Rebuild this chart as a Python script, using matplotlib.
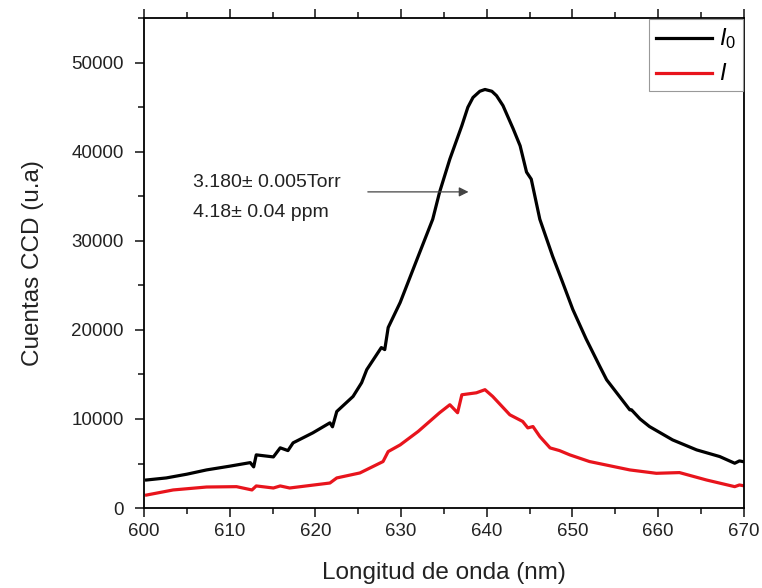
import numpy as np
import matplotlib.pyplot as plt
from matplotlib.ticker import MultipleLocator

plt.rcParams['font.family'] = ['Liberation Sans', 'DejaVu Sans']
plt.rcParams['mathtext.fontset'] = 'custom'
plt.rcParams['mathtext.it'] = 'Liberation Sans:italic'
plt.rcParams['mathtext.rm'] = 'Liberation Sans'

# I0 (negro)
x_i0 = [600.3, 602.6, 605.0, 607.3, 610.0, 612.4, 612.8, 613.1, 615.1, 615.9, 616.8, 617.4,
        619.7, 621.7, 622.0, 622.5, 624.4, 625.4, 626.0, 627.7, 628.1, 628.5, 629.9,
        632.0, 633.7, 634.5, 635.7, 637.1, 637.8, 638.4, 639.2, 639.8, 640.6, 641.15, 641.9,
        643.1, 643.9, 644.65, 645.2, 646.2, 647.7, 648.8, 650.05, 651.6, 653.2, 654.0,
        656.7, 656.9, 657.9, 659.0, 661.7, 664.5, 667.2, 668.95, 669.5, 670.0]
y_i0 = [3150, 3380, 3800, 4280, 4700, 5100, 4620, 5970, 5740, 6760, 6450, 7320,
        8440, 9570, 9120, 10840, 12530, 14070, 15540, 18020, 17790, 20270, 23080,
        28260, 32430, 35470, 39190, 42940, 45000, 46100, 46800, 47000, 46800, 46300, 45190,
        42560, 40680, 37720, 36930, 32430, 28260, 25500, 22300, 19000, 15910, 14400,
        11030, 11030, 10000, 9150, 7650, 6530, 5780, 5030, 5290, 5200]

# I (rojo)
x_i = [600.3, 603.4, 607.3, 610.8, 612.6, 613.1, 615.1, 615.9, 617.0, 621.7, 622.5,
       625.2, 627.9, 628.5, 629.9, 632.0, 634.5, 635.7, 636.6, 637.1, 638.8, 639.8,
       640.7, 642.7, 644.2, 644.8, 645.4, 646.2, 647.4, 648.5, 649.7, 652.0, 656.7,
       659.8, 662.5, 665.65, 668.95, 669.5, 670.0]
y_i = [1460, 2030, 2360, 2400, 2030, 2480, 2250, 2480, 2250, 2810, 3380,
       3940, 5220, 6340, 7090, 8600, 10700, 11600, 10700, 12720, 12940, 13290,
       12530, 10470, 9720, 9000, 9150, 8030, 6750, 6450, 5970, 5220, 4280,
       3900, 3980, 3150, 2400, 2590, 2500]

fig = plt.figure(figsize=(7.62, 5.88), dpi=100)
ax = fig.add_axes([0.189, 0.136, 0.787, 0.833])

ax.plot(x_i0, y_i0, color='black', lw=2.3, label=r'$I_{\mathit{0}}$')
ax.plot(x_i, y_i, color='#e8141c', lw=2.3, label='$I$')

ax.set_xlim(600, 670)
ax.set_ylim(0, 55000)
ax.xaxis.set_major_locator(MultipleLocator(10))
ax.xaxis.set_minor_locator(MultipleLocator(5))
ax.yaxis.set_major_locator(MultipleLocator(10000))
ax.yaxis.set_minor_locator(MultipleLocator(5000))
ax.tick_params(which='both', direction='out', top=True, right=False, width=1.2,
               labelsize=13.5, colors='#222222')
ax.tick_params(axis='x', pad=4)
ax.tick_params(axis='y', pad=8)
ax.tick_params(which='major', length=6.5)
ax.tick_params(which='minor', length=4)
for s in ax.spines.values():
    s.set_linewidth(1.3)

ax.set_xlabel('Longitud de onda (nm)', fontsize=17.5, color='#222222', labelpad=16)
ax.set_ylabel('Cuentas CCD (u.a)', fontsize=17.5, color='#222222', labelpad=20)

ax.text(605.7, 36550, '3.180\u00b1 0.005Torr', fontsize=14, va='center', color='#222222')
ax.text(605.7, 33150, '4.18\u00b1 0.04 ppm', fontsize=14, va='center', color='#222222')
ax.annotate('', xy=(638.2, 35500), xytext=(625.8, 35500),
            arrowprops=dict(arrowstyle='-|>', color='#444444', lw=0.9, mutation_scale=14))

leg = ax.legend(loc='upper right', bbox_to_anchor=(1, 1), borderaxespad=0.05,
                fontsize=14, handlelength=2.9, fancybox=False, framealpha=1,
                edgecolor='#999999', handletextpad=0.35, labelspacing=0.6, borderpad=0.35)
leg.get_frame().set_linewidth(0.8)
for t in leg.get_texts():
    t.set_fontsize(17)

fig.savefig('out.png', dpi=100)
